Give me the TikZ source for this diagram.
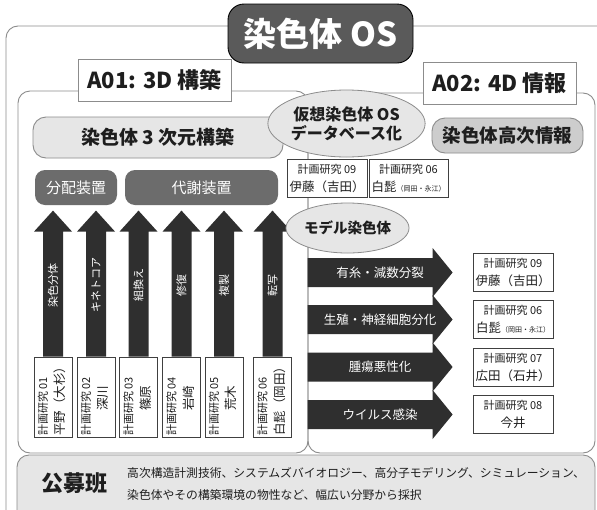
\documentclass[tikz,border=0pt]{standalone}
\usepackage{fontspec}
\setmainfont{Noto Sans CJK JP}
\usetikzlibrary{shapes.geometric}
\definecolor{fr}{HTML}{8C8C8C}
\definecolor{dk}{HTML}{2F2F2F}
\definecolor{bx}{HTML}{404040}
\definecolor{ttlfill}{HTML}{5A5A5A}
\definecolor{devfill}{HTML}{6C6C6C}
\definecolor{lt}{HTML}{E6E6E6}
\definecolor{md}{HTML}{CDCDCD}
\definecolor{txt}{HTML}{1E1E1E}
\newcommand{\fsz}[1]{\fontsize{#1}{#1}\selectfont}
\newcommand{\pj}[2]{{\fontsize{11}{18}\selectfont 計画研究 #1}\\{\fontsize{12.5}{18}\selectfont #2}}
\newcommand{\shiraHige}{白髭{\fontsize{7}{7}\selectfont （岡田・永江）}}
\begin{document}
\begin{tikzpicture}[x=1pt,y=-1pt,
  frame/.style={draw=fr, line width=0.9pt, rounded corners=12pt},
  ttlbox/.style={draw=black, fill=ttlfill, text=white, rounded corners=16pt, line width=0.9pt,
    minimum width=185pt, minimum height=59pt, font=\bfseries\fsz{33}, inner sep=0pt},
  lbl/.style={draw=fr, fill=white, line width=0.9pt, font=\bfseries\fsz{22}, inner sep=0pt,
    minimum width=153pt, minimum height=42pt, text=txt},
  lightbox/.style={draw=fr, fill=lt, line width=0.9pt, rounded corners=13pt, inner sep=0pt, text=txt},
  devbox/.style={fill=devfill, text=white, rounded corners=10pt, font=\fsz{15}, inner sep=0pt,
    minimum height=35pt},
  rbox/.style={draw=bx, fill=white, line width=0.8pt, minimum width=38pt, minimum height=80pt, inner sep=0pt},
  pbox/.style={draw=bx, fill=white, line width=0.8pt, align=center, inner sep=0pt, text=txt,
    minimum width=80pt, font=\fontsize{12.5}{18}\selectfont},
  ell/.style={ellipse, draw=fr, fill=lt, line width=0.8pt, inner sep=0pt, text=txt, align=center},
  alab/.style={text=white, inner sep=0pt},
  arrowfill/.style={fill=dk}
]
\useasboundingbox (0,0) rectangle (597,509);
\clip (0,0) rectangle (597,509);
\fill[white] (0,0) rectangle (597,509);

% outer frame and title
\draw[frame, fill=white] (6,26) rectangle (640,560);
\node[ttlbox] (title) at (320.5,33.5) {染色体 OS};

% panels
\draw[frame] (18,91) rectangle (308,453);
\draw[frame] (308,93) rectangle (595,453);
\draw[frame, fill=lt] (17,455) rectangle (595,545);

% panel labels
\node[lbl] (a01) at (154.5,80) {A01: 3D 構築};
\node[lbl] (a02) at (499.5,83) {A02: 4D 情報};

% headline boxes
\node[lightbox, minimum width=250pt, minimum height=41pt, font=\bfseries\fsz{19}] (s3d) at (158,137.5) {染色体 3 次元構築};
\node[lightbox, fill=md, minimum width=151pt, minimum height=35pt, font=\bfseries\fsz{18.5}] (hinfo) at (507.5,135.5) {染色体高次情報};

% device boxes
\node[devbox, minimum width=82pt] (bunpai) at (76,187.5) {分配装置};
\node[devbox, minimum width=153pt] (taisha) at (201.5,187.5) {代謝装置};

% left research boxes with upward arrows
\foreach \cx/\n/\nm/\lab [count=\i] in {53/01/平野（大杉）/染色分体, 96/02/深川/キネトコア, 138.5/03/篠原/組換え, 181.5/04/岩崎/修復, 224/05/荒木/複製, 272.5/06/白髭（岡田）/転写} {
  \node[rbox] (r\i) at (\cx,397) {};
  \fill[arrowfill] (r\i.north) ++(-10,0) -- ++(0,-125) -- ++(-9,0) -- ++(19,-21) -- ++(19,21) -- ++(-9,0) -- ++(0,125) -- cycle;
  \node[alab, rotate=90, font=\fsz{11}] at (\cx,285) {\lab};
  \node[rotate=90, anchor=west, inner sep=0pt, font=\fsz{11}, text=txt] at (\cx-10,436) {計画研究 \n};
  \node[rotate=90, inner sep=0pt, font=\fsz{12.5}, text=txt] at (\cx+7,398) {\nm};
}

% middle column
\node[ell, minimum width=121pt, minimum height=67pt, font=\bfseries\fontsize{16}{19}\selectfont] (vos) at (346.5,123.5) {仮想染色体 OS\\データベース化};
\node[pbox, minimum height=38pt] (m1) at (327,178) {\pj{09}{伊藤（吉田）}};
\node[pbox, minimum width=79pt, minimum height=38pt] (m2) at (408.5,178) {\pj{06}{\shiraHige}};
\node[ell, minimum width=119pt, minimum height=50pt, font=\bfseries\fsz{14.5}] (model) at (347.5,228) {モデル染色体};

% right arrows and boxes
\foreach \cy/\n/\nm/\lab [count=\i] in {272.5/09/伊藤（吉田）/有糸・減数分裂, 319.5/06/\shiraHige/生殖・神経細胞分化, 367/07/広田（石井）/腫瘍悪性化, 414.5/08/今井/ウイルス感染} {
  \node[pbox, minimum height=38pt] (q\i) at (513,\cy) {\pj{\n}{\nm}};
  \fill[arrowfill] (q\i.west) ++(-20,0) -- ++(-20,-24.5) -- ++(0,10) -- ++(-125,0) -- ++(0,29) -- ++(125,0) -- ++(0,10) -- cycle;
  \node[alab, font=\fsz{12.5}] at (380,\cy) {\lab};
}

% open call
\node[font=\bfseries\fsz{22}, text=txt] (koubo) at (74,483) {公募班};
\node[anchor=west, align=left, inner sep=0pt, text=txt, font=\fontsize{11.8}{22}\selectfont] (kdesc) at (127,484) {高次構造計測技術、システムズバイオロジー、高分子モデリング、シミュレーション、\\染色体やその構築環境の物性など、幅広い分野から採択};
\end{tikzpicture}
\end{document}
